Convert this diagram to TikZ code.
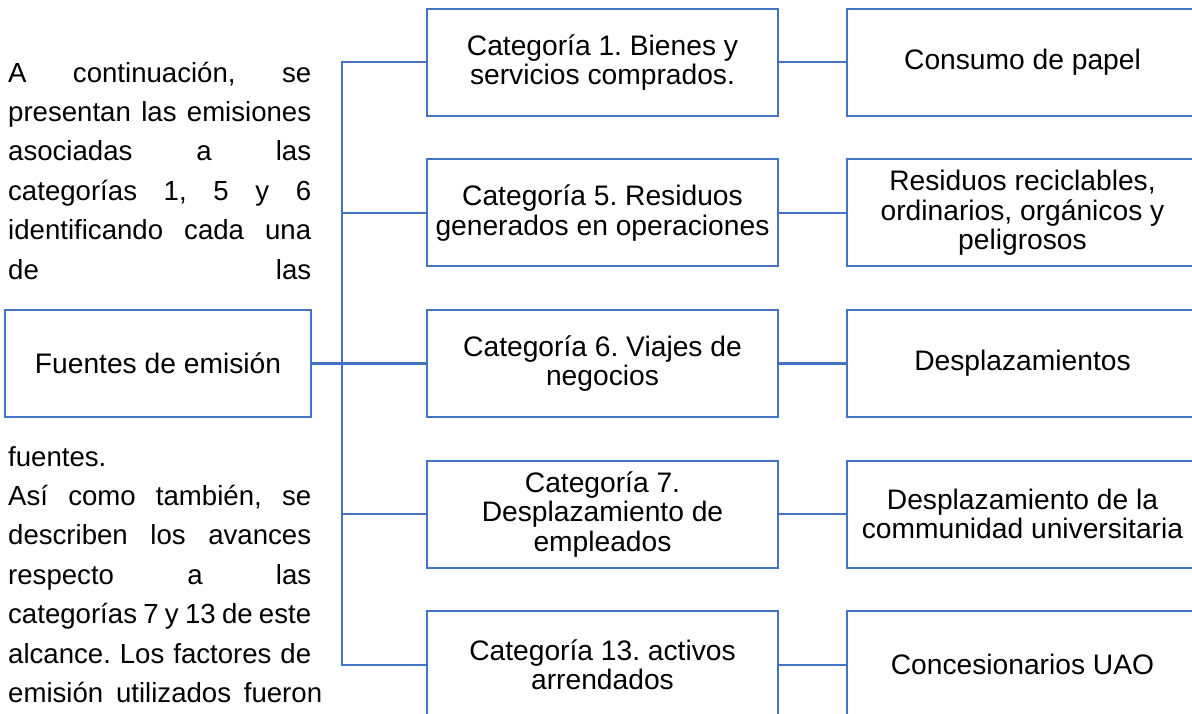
\documentclass[tikz,border=0pt]{standalone}
\usepackage{fontspec}
\setmainfont{Liberation Sans}
\frenchspacing
\definecolor{boxblue}{HTML}{4472C4}
\newcommand{\parafont}{\fontsize{27.6}{39.4}\selectfont}
\newcommand{\boxfont}{\fontsize{28.2}{29.5}\selectfont}
\newcommand{\jline}[2][303pt]{\makebox[#1][s]{\strut #2}}

\begin{document}
\begin{tikzpicture}[x=1pt, y=-1pt, grow'=right]
        \tikzstyle{catbox}=[draw=boxblue, line width=2.2pt, font=\boxfont, align=center, inner sep=2pt, minimum width=351pt, minimum height=107pt]
        \tikzstyle{fuentebox}=[catbox, minimum width=306pt]
        \tikzstyle{edge from parent}=[draw=boxblue, line width=2.2pt]
        \tikzstyle{level 1}=[level distance=444.5pt, sibling distance=150.6pt, edge from parent path={(\tikzparentnode.east) -- ++(30pt,0pt) |- (\tikzchildnode.west)}]
        \tikzstyle{level 2}=[level distance=420pt]
        \useasboundingbox (0,0) rectangle (1192,714);
        % texto a la izquierda
        \node[anchor=north west, inner sep=0pt, align=left, font=\parafont] (parrafo1) at (8,54.4) {\jline{A continuación, se}\\ \jline{presentan las emisiones}\\ \jline{asociadas a las}\\ \jline{categorías 1, 5 y 6}\\ \jline{identificando cada una}\\ \jline{de las}};
        \node[anchor=north west, inner sep=0pt, align=left, font=\parafont] (parrafo2) at (8,438.4) {\strut fuentes.\\ \jline{Así como también, se}\\ \jline{describen los avances}\\ \jline{respecto a las}\\ \jline{categorías 7 y 13 de este}\\ \jline{alcance. Los factores de}\\ \jline[314pt]{emisión utilizados fueron}};
        % arbol de fuentes
        \node[fuentebox] (fuentes) at (158,363.5) {Fuentes de emisión}
            child {node[catbox] (cat1) {Categoría 1. Bienes y\\servicios comprados.} child {node[catbox] (papel) {Consumo de papel}}}
            child {node[catbox] (cat5) {Categoría 5. Residuos\\generados en operaciones} child {node[catbox] (residuos) {Residuos reciclables,\\ordinarios, orgánicos y\\peligrosos}}}
            child {node[catbox] (cat6) {Categoría 6. Viajes de\\negocios} child {node[catbox] (viajes) {Desplazamientos}}}
            child {node[catbox] (cat7) {Categoría 7.\\Desplazamiento de\\empleados} child {node[catbox] (comunidad) {Desplazamiento de la\\communidad universitaria}}}
            child {node[catbox] (cat13) {Categoría 13. activos\\arrendados} child {node[catbox] (uao) {Concesionarios UAO}}};
    \end{tikzpicture}
\end{document}
